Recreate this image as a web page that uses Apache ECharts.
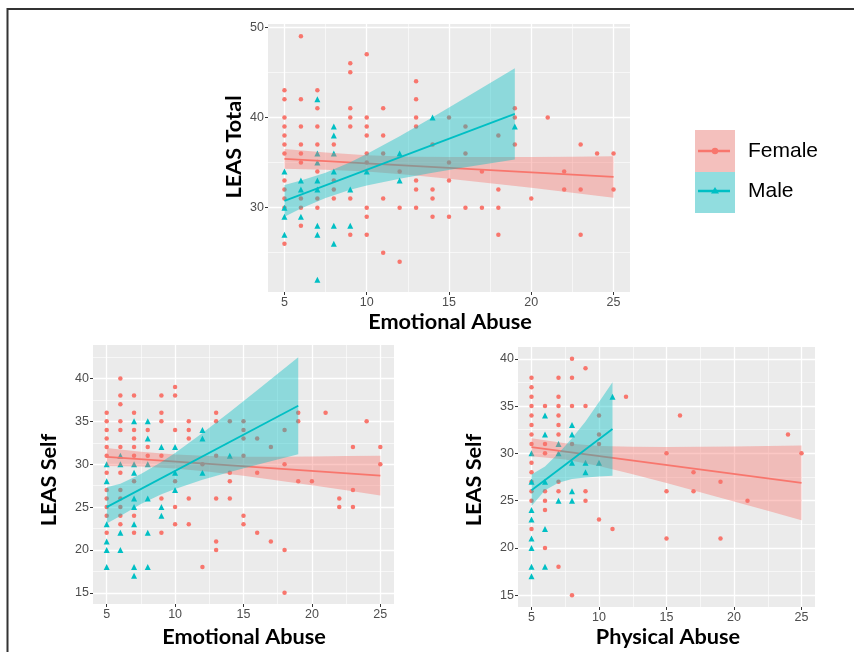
<!DOCTYPE html>
<html><head><meta charset="utf-8">
<script src="https://cdn.jsdelivr.net/npm/echarts@6/dist/echarts.min.js"></script>
<style>html,body{margin:0;padding:0;background:#fff}#c{width:854px;height:652px}</style>
</head><body><div id="c"></div>
<script>
// ---------- data ----------
const xTicks = [5, 10, 15, 20, 25];
const yTicksTop = [30, 40, 50];
const yTicksBottom = [15, 20, 25, 30, 35, 40];

// Panel 1: LEAS Total vs Emotional Abuse (grouped by x value)
const p1Female = [[5,[43,42,40,39,38,37,36,33,32,31,30,26]],[6,[49,42,39,37,36,35,31,30,28]],[7,[43,41,39,37,34,31,30]],[8,[37,33,32,31]],[9,[46,45,41,40,39,31,27]],[10,[47,40,39,38,36,35,30,29,27]],[11,[41,38,36,31,25]],[12,[34,30,24]],[13,[44,42,40,39,33,32,30]],[14,[37,32,31,29]],[15,[40,35,33,29]],[16,[39,36,30]],[17,[34,30]],[18,[38,32,30,27]],[19,[41,40,37]],[20,[31]],[21,[40]],[22,[34,32]],[23,[37,32,27]],[24,[36]],[25,[36,32]]];
const p1Male = [[5,[34,30,29,27]],[6,[33,32,29]],[7,[42,36,35,33,32,28,27,22]],[8,[39,38,36,34,28,26]],[9,[32,28]],[10,[34]],[12,[36,33]],[14,[40]],[19,[39]]];
const p1FemaleFit = [[5,35.4],[25,33.4]];
const p1MaleFit = [[5,30.74],[19,40.39]];
const p1FemaleBandX = [5,7.5,10,12.5,15,17.5,20,22.5,25];
const p1FemaleBandLo = [34.3,34.2,34.0,33.65,33.2,32.7,32.2,31.65,31.1];
const p1FemaleBandHi = [36.5,36.1,35.8,35.65,35.6,35.6,35.6,35.65,35.7];
const p1MaleBandX = [5,6,7.5,9,10,12,14,16,19];
const p1MaleBandLo = [29.0,29.9,31.06,31.97,32.44,33.2,33.86,34.47,35.34];
const p1MaleBandHi = [32.5,33.0,33.86,35.03,35.94,37.9,40.02,42.17,45.44];

// Panel 2: LEAS Self vs Emotional Abuse
const p2Female = [[5,[36,35,34,33,32,31,29,27,26,25,24,22]],[6,[40,38,37,35,34,32,29,27,26,25,24,23]],[7,[38,36,34,33,32,31,28,24,22]],[8,[34,32,31]],[9,[38,36,35,31,26,22]],[10,[39,38,34,28,25,23]],[11,[35,34,33,26,23]],[12,[30,18]],[13,[36,35,31,26,21,20]],[14,[35,29,28,26]],[15,[35,34,33,31,24,23]],[16,[33,29,22]],[17,[32,21]],[18,[34,30,20,15]],[19,[36,35,28]],[20,[28]],[21,[36]],[22,[26,25]],[23,[32,27,25]],[24,[35]],[25,[32,30]]];
const p2Male = [[5,[30,28,23,21,20,18]],[6,[31,30,22,20]],[7,[35,30,29,26,25,23,18,17]],[8,[35,33,30,26,22,18]],[9,[32,25,24]],[10,[32,29,27]],[12,[34,33,29]],[14,[31]]];
const p2FemaleFit = [[5,30.85],[25,28.68]];
const p2MaleFit = [[5,25.0],[19,36.82]];
const p2FemaleBandX = [5,7.5,10,12.5,15,17.5,20,22.5,25];
const p2FemaleBandLo = [29.8,29.72,29.49,29.12,28.64,28.1,27.54,26.95,26.36];
const p2FemaleBandHi = [31.88,31.44,31.13,30.96,30.88,30.88,30.9,30.95,31.0];
const p2MaleBandX = [5,6,7.5,9,10,12,14,16,19];
const p2MaleBandLo = [23.1,23.96,25.36,26.5,27.12,28.18,29.1,29.95,31.17];
const p2MaleBandHi = [27.3,27.72,28.86,30.26,31.32,33.64,36.1,38.63,42.47];

// Panel 3: LEAS Self vs Physical Abuse
const p3Female = [[5,[38,37,36,35,34,33,32,31,29,28,27,26,25,22]],[6,[35,31,30,26,25,24,20]],[7,[38,36,35,34,33,32,27,26,18]],[8,[40,38,35,31,15]],[9,[39,35,26,25]],[10,[34,32,31,23]],[11,[22]],[12,[36]],[15,[30,26,21]],[16,[34]],[17,[28,26]],[19,[27,21]],[21,[25]],[24,[32]],[25,[30]]];
const p3Male = [[5,[30,27,24,23,21,20,18,17]],[6,[34,32,27,22,18]],[7,[31,30,25]],[8,[33,32,29,26,25]],[9,[29,28]],[10,[29]],[11,[36]]];
const p3FemaleFit = [[5,30.67],[25,26.87]];
const p3MaleFit = [[5,26.1],[11,32.57]];
const p3FemaleBandX = [5,7.5,10,12.5,15,17.5,20,22.5,25];
const p3FemaleBandLo = [29.7,29.35,28.66,27.8,26.86,25.9,24.91,23.92,22.92];
const p3FemaleBandHi = [31.6,31.06,30.78,30.7,30.68,30.7,30.73,30.78,30.82];
const p3MaleBandX = [5,6,7,8,9,10,11];
const p3MaleBandLo = [24.43,26.1,26.9,27.3,27.45,27.55,27.62];
const p3MaleBandHi = [27.77,28.6,30.0,31.6,33.37,35.43,37.52];

// ---------- build ----------
const FEMALE = '#F8766D', MALE = '#00BFC4';
const flatten = g => { const out = []; g.forEach(([x, ys]) => ys.forEach(y => out.push([x, y]))); return out; };

function band(idx, xs, lo, hi, color, z) {
  return {
    type: 'custom', xAxisIndex: idx, yAxisIndex: idx, z: z, silent: true, clip: true,
    data: xs.map((x, i) => [x, lo[i], hi[i]]),
    encode: { x: 0, y: [1, 2] },
    renderItem: function (params, api) {
      if (params.dataIndex !== 0) return null;
      const pts = [];
      for (let i = 0; i < xs.length; i++) pts.push(api.coord([xs[i], hi[i]]));
      for (let i = xs.length - 1; i >= 0; i--) pts.push(api.coord([xs[i], lo[i]]));
      return { type: 'polygon', shape: { points: pts }, style: { fill: color, opacity: 0.4 } };
    }
  };
}
function scatter(idx, data, color, symbol, size) {
  return { type: 'scatter', xAxisIndex: idx, yAxisIndex: idx, z: 2, silent: true,
    symbol: symbol, symbolSize: size, data: flatten(data), itemStyle: { color: color, opacity: 1 } };
}
function fit(idx, data, color, z) {
  return { type: 'line', xAxisIndex: idx, yAxisIndex: idx, z: z, silent: true, showSymbol: false,
    data: data, lineStyle: { color: color, width: 1.8 }, itemStyle: { color: color } };
}
function panel(idx, fem, mal, fFit, mFit, fbx, fblo, fbhi, mbx, mblo, mbhi) {
  return [
    scatter(idx, fem, FEMALE, 'circle', 4.5),
    scatter(idx, mal, MALE, 'triangle', 6),
    band(idx, fbx, fblo, fbhi, FEMALE, 3),
    fit(idx, fFit, FEMALE, 4),
    band(idx, mbx, mblo, mbhi, MALE, 5),
    fit(idx, mFit, MALE, 6)
  ];
}

const labelStyle = { color: '#4d4d4d', fontSize: 12.5, fontFamily: 'Liberation Sans, Arial, sans-serif' };
function xAx(idx) {
  return { type: 'value', gridIndex: idx, min: 4, max: 26, minInterval: 5, maxInterval: 5, splitNumber: 4,
    axisLine: { show: false },
    axisTick: { show: true, length: 3, lineStyle: { color: '#333', width: 1 }, customValues: xTicks },
    axisLabel: Object.assign({ margin: 4, customValues: xTicks }, labelStyle),
    splitLine: { show: true, lineStyle: { color: '#ffffff', width: 1.3 } },
    minorTick: { show: false, splitNumber: 2 },
    minorSplitLine: { show: true, lineStyle: { color: '#ffffff', width: 0.6 } } };
}
function yAx(idx, min, max, interval, ticks) {
  return { type: 'value', gridIndex: idx, min: min, max: max, minInterval: interval, maxInterval: interval, splitNumber: 3,
    axisLine: { show: false },
    axisTick: { show: true, length: 3, lineStyle: { color: '#333', width: 1 }, customValues: ticks },
    axisLabel: Object.assign({ margin: 4, customValues: ticks }, labelStyle),
    splitLine: { show: true, lineStyle: { color: '#ffffff', width: 1.3 } },
    minorTick: { show: false, splitNumber: 2 },
    minorSplitLine: { show: true, lineStyle: { color: '#ffffff', width: 0.6 } } };
}

const titleFont = 'bold 21.7px Lato, "Open Sans", sans-serif';
const option = {
  animation: false,
  backgroundColor: '#ffffff',
  grid: [
    { left: 268, top: 24, width: 362, height: 268, show: true, backgroundColor: '#EBEBEB', borderWidth: 0 },
    { left: 93, top: 345, width: 301, height: 259, show: true, backgroundColor: '#EBEBEB', borderWidth: 0 },
    { left: 518, top: 347, width: 297, height: 260, show: true, backgroundColor: '#EBEBEB', borderWidth: 0 }
  ],
  xAxis: [xAx(0), xAx(1), xAx(2)],
  yAxis: [
    yAx(0, 20.65, 50.35, 10, yTicksTop),
    yAx(1, 13.7, 43.9, 5, yTicksBottom),
    yAx(2, 13.75, 41.25, 5, yTicksBottom)
  ],
  series: [].concat(
    panel(0, p1Female, p1Male, p1FemaleFit, p1MaleFit, p1FemaleBandX, p1FemaleBandLo, p1FemaleBandHi, p1MaleBandX, p1MaleBandLo, p1MaleBandHi),
    panel(1, p2Female, p2Male, p2FemaleFit, p2MaleFit, p2FemaleBandX, p2FemaleBandLo, p2FemaleBandHi, p2MaleBandX, p2MaleBandLo, p2MaleBandHi),
    panel(2, p3Female, p3Male, p3FemaleFit, p3MaleFit, p3FemaleBandX, p3FemaleBandLo, p3FemaleBandHi, p3MaleBandX, p3MaleBandLo, p3MaleBandHi)
  ),
  graphic: [
    // frame
    { type: 'line', shape: { x1: 7, y1: 9, x2: 854, y2: 9 }, style: { stroke: '#333', lineWidth: 2 } },
    { type: 'line', shape: { x1: 7.5, y1: 8, x2: 7.5, y2: 652 }, style: { stroke: '#333', lineWidth: 2 } },
    // axis titles
    { type: 'text', x: 450, y: 322, style: { text: 'Emotional Abuse', font: titleFont, fill: '#000', textAlign: 'center', textVerticalAlign: 'middle' } },
    { type: 'text', x: 234, y: 147, rotation: Math.PI / 2, style: { text: 'LEAS Total', font: titleFont, fill: '#000', textAlign: 'center', textVerticalAlign: 'middle' } },
    { type: 'text', x: 244, y: 637, style: { text: 'Emotional Abuse', font: titleFont, fill: '#000', textAlign: 'center', textVerticalAlign: 'middle' } },
    { type: 'text', x: 49, y: 480, rotation: Math.PI / 2, style: { text: 'LEAS Self', font: titleFont, fill: '#000', textAlign: 'center', textVerticalAlign: 'middle' } },
    { type: 'text', x: 668, y: 637, style: { text: 'Physical Abuse', font: titleFont, fill: '#000', textAlign: 'center', textVerticalAlign: 'middle' } },
    { type: 'text', x: 474, y: 480, rotation: Math.PI / 2, style: { text: 'LEAS Self', font: titleFont, fill: '#000', textAlign: 'center', textVerticalAlign: 'middle' } },
    // legend
    { type: 'rect', shape: { x: 695, y: 130, width: 40, height: 42 }, style: { fill: '#F4C0BD' } },
    { type: 'rect', shape: { x: 695, y: 172, width: 40, height: 41 }, style: { fill: '#91DDDF' } },
    { type: 'line', shape: { x1: 698, y1: 151, x2: 730, y2: 151 }, style: { stroke: FEMALE, lineWidth: 2.5 } },
    { type: 'circle', shape: { cx: 715, cy: 151, r: 3.2 }, style: { fill: FEMALE } },
    { type: 'line', shape: { x1: 698, y1: 191, x2: 730, y2: 191 }, style: { stroke: MALE, lineWidth: 2.5 } },
    { type: 'polygon', shape: { points: [[715, 187], [719, 193.5], [711, 193.5]] }, style: { fill: MALE } },
    { type: 'text', x: 748, y: 151, style: { text: 'Female', font: '21px "Liberation Sans", Arial, sans-serif', fill: '#000', textVerticalAlign: 'middle' } },
    { type: 'text', x: 748, y: 191, style: { text: 'Male', font: '21px "Liberation Sans", Arial, sans-serif', fill: '#000', textVerticalAlign: 'middle' } }
  ]
};
const chart = echarts.init(document.getElementById('c'), null, { renderer: 'canvas' });
chart.setOption(option);
</script></body></html>
